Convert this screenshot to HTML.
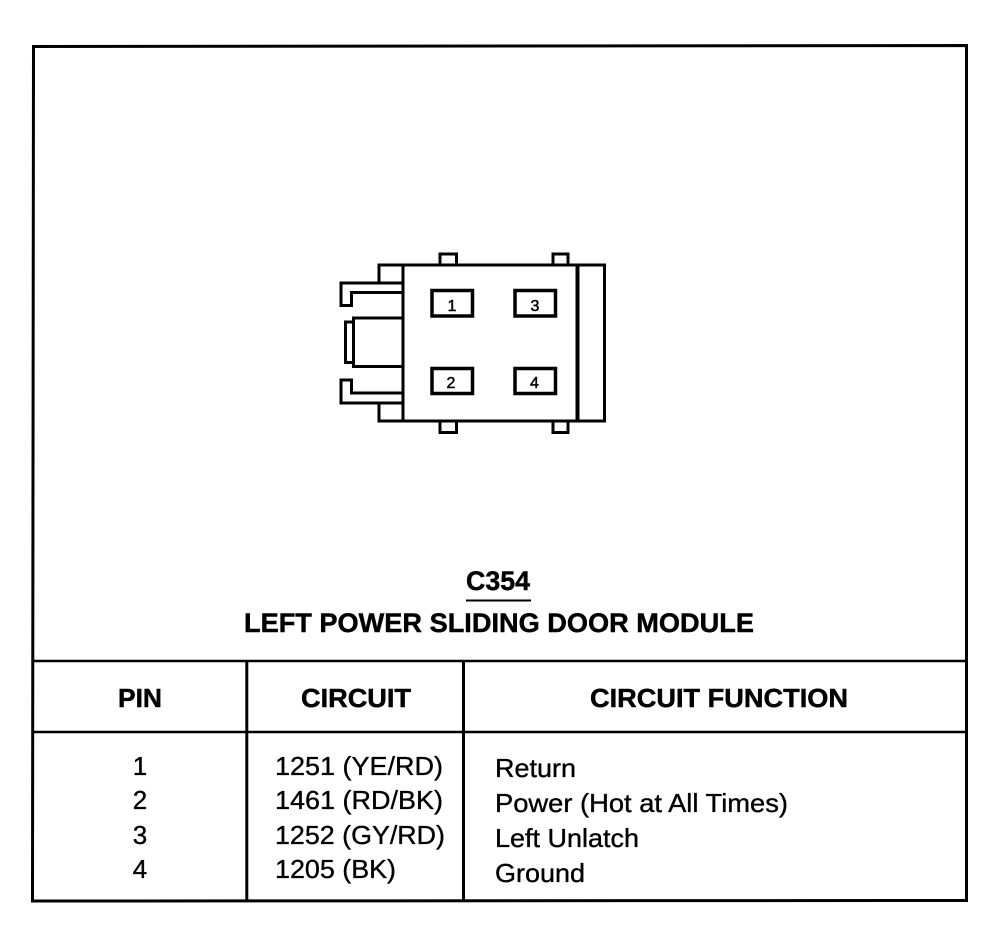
<!DOCTYPE html>
<html>
<head>
<meta charset="utf-8">
<style>
html,body{margin:0;padding:0;background:#fff;width:984px;height:928px;overflow:hidden}
svg{display:block}
text{font-family:"Liberation Sans",Arial,sans-serif;fill:#000}
.b{font-weight:bold;stroke:#000;stroke-width:.45px}
.r{font-size:26px;stroke:#000;stroke-width:.35px}
.n{font-size:16px;stroke:#000;stroke-width:.5px}
</style>
</head>
<body>
<svg width="984" height="928" viewBox="0 0 984 928" xmlns="http://www.w3.org/2000/svg">
<g fill="none" stroke="#000">
<!-- frame -->
<path d="M33.5 46.5 L966.5 45.5 L966.5 900.5 L32.5 901 Z" stroke-width="3"/>
<path d="M33 661 H966" stroke-width="2.5"/>
<path d="M33 732 H966" stroke-width="2.5"/>
<path d="M246.8 661 V901" stroke-width="3"/>
<path d="M463.5 661 V901" stroke-width="3"/>
<path d="M466 600.5 H531" stroke-width="2"/>
<!-- connector -->
<g stroke-width="3">
<rect x="403" y="265" width="201.500" height="156"/>
<path d="M440 264 V254 H456.500 V264"/>
<path d="M553 264 V254 H568 V264"/>
<path d="M440 421 V432.500 H456.500 V421"/>
<path d="M553 421 V432.500 H568 V421"/>
<path d="M403 265 H379 V283"/>
<path d="M403 421 H379 V403"/>
<path d="M403 283 H341 V305.500 H351.500 V292.500 H403"/>
<path d="M403 403 H341 V380 H351.500 V393 H403"/>
<rect x="353.500" y="318" width="49.500" height="48.500"/>
<path d="M353.500 322 H345.500 V362.500 H353.500"/>
</g>
<path d="M577.500 265 V421" stroke-width="4"/>
<g stroke-width="3.5">
<rect x="432" y="290.500" width="40.500" height="25.500"/>
<rect x="515" y="290.500" width="40.500" height="25.500"/>
<rect x="432" y="368.500" width="40.500" height="25"/>
<rect x="515" y="368.500" width="40.500" height="25"/>
</g>
</g>
<!-- pin numbers in connector -->
<g class="n" text-anchor="middle">
<text x="452" y="311">1</text>
<text x="535" y="311">3</text>
<text x="451" y="388">2</text>
<text x="534.500" y="388">4</text>
</g>
<!-- titles -->
<text class="b" x="466" y="590" font-size="27" textLength="64" lengthAdjust="spacingAndGlyphs">C354</text>
<text class="b" x="244" y="632" font-size="27" textLength="510" lengthAdjust="spacingAndGlyphs">LEFT POWER SLIDING DOOR MODULE</text>
<!-- headers -->
<text class="b" x="118" y="707" font-size="26" textLength="44" lengthAdjust="spacingAndGlyphs">PIN</text>
<text class="b" x="301" y="707" font-size="26" textLength="110" lengthAdjust="spacingAndGlyphs">CIRCUIT</text>
<text class="b" x="590" y="707" font-size="26" textLength="258" lengthAdjust="spacingAndGlyphs">CIRCUIT FUNCTION</text>
<!-- pins -->
<g class="r" text-anchor="middle">
<text x="140" y="775">1</text>
<text x="140" y="809">2</text>
<text x="140" y="844">3</text>
<text x="140" y="878">4</text>
</g>
<!-- circuits -->
<text class="r" x="275" y="775" textLength="168" lengthAdjust="spacingAndGlyphs">1251 (YE/RD)</text>
<text class="r" x="275" y="809" textLength="168" lengthAdjust="spacingAndGlyphs">1461 (RD/BK)</text>
<text class="r" x="275" y="844" textLength="170" lengthAdjust="spacingAndGlyphs">1252 (GY/RD)</text>
<text class="r" x="275" y="878" textLength="121" lengthAdjust="spacingAndGlyphs">1205 (BK)</text>
<!-- functions -->
<text class="r" x="495" y="777" textLength="81" lengthAdjust="spacingAndGlyphs">Return</text>
<text class="r" x="495" y="812" textLength="293" lengthAdjust="spacingAndGlyphs">Power (Hot at All Times)</text>
<text class="r" x="495" y="847" textLength="144" lengthAdjust="spacingAndGlyphs">Left Unlatch</text>
<text class="r" x="495" y="882" textLength="90" lengthAdjust="spacingAndGlyphs">Ground</text>
</svg>
</body>
</html>
